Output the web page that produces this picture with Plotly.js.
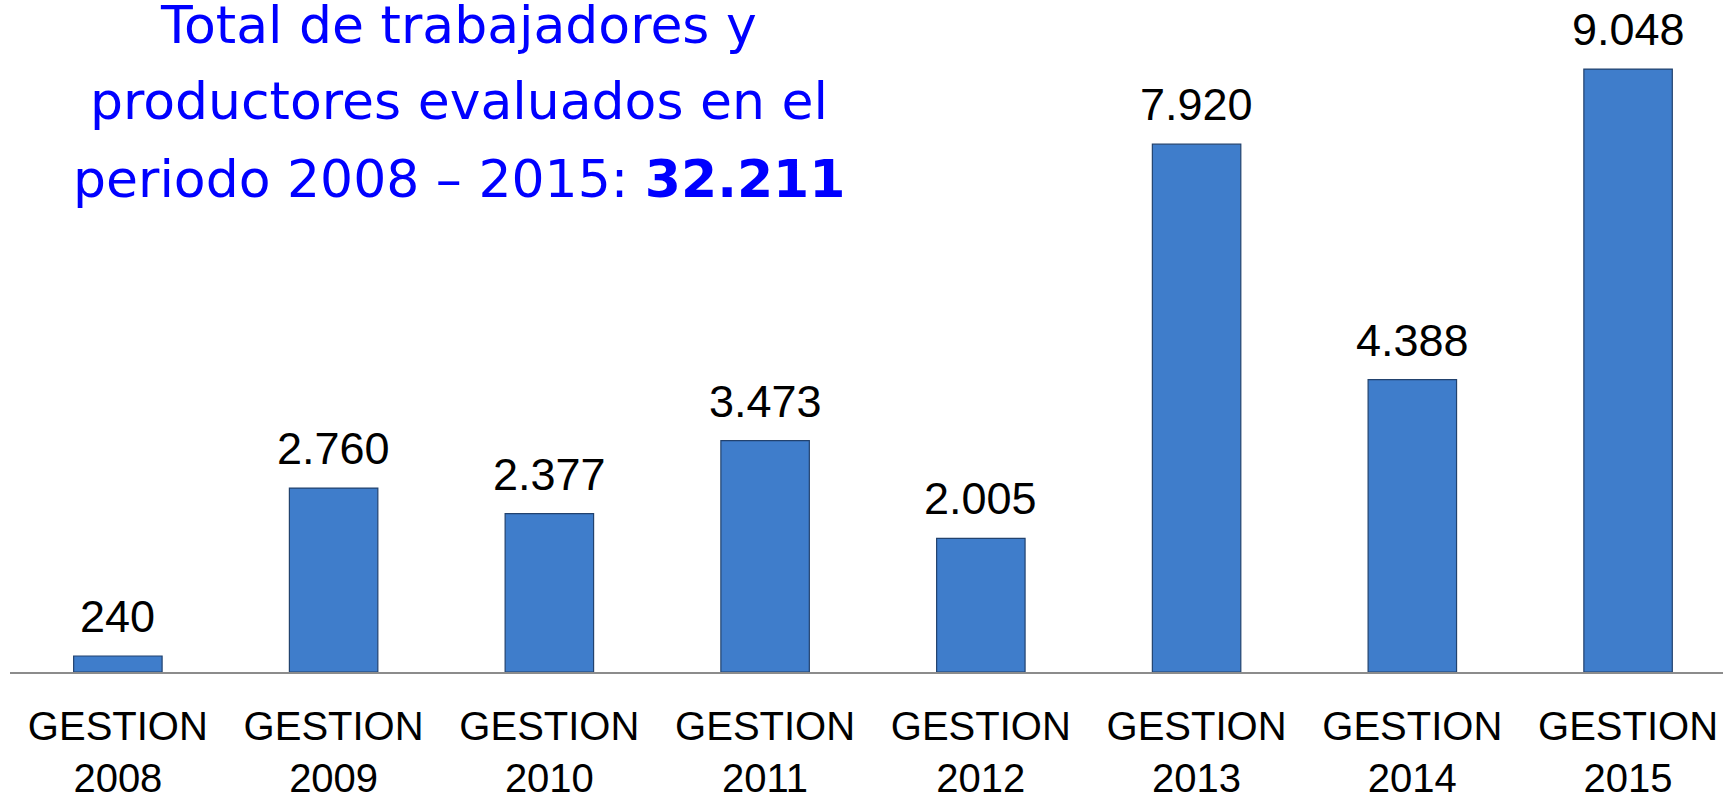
<!DOCTYPE html>
<html>
<head>
<meta charset="utf-8">
<script src="https://cdn.plot.ly/plotly-3.0.1.min.js"></script>
<style>html,body{margin:0;padding:0;background:#fff;}#chart{width:1723px;height:797px;}</style>
</head>
<body>
<div id="chart"></div>
<script>
const categories = ["GESTION<br>2008","GESTION<br>2009","GESTION<br>2010","GESTION<br>2011","GESTION<br>2012","GESTION<br>2013","GESTION<br>2014","GESTION<br>2015"];
const values = [240, 2760, 2377, 3473, 2005, 7920, 4388, 9048];
const valueLabels = ["240","2.760","2.377","3.473","2.005","7.920","4.388","9.048"];
const titleLines = ["Total de trabajadores y", "productores evaluados en el", "periodo 2008 – 2015: <b>32.211</b>"];

const trace = {
  type: 'bar',
  x: categories,
  y: values,
  marker: {color: '#3F7DCB', line: {color: '#22426E', width: 1.2}},
  hoverinfo: 'skip'
};

const valueAnnotations = categories.map((c, i) => ({
  x: c, y: values[i], xref: 'x', yref: 'y',
  text: valueLabels[i], showarrow: false,
  xanchor: 'center', yanchor: 'bottom', yshift: 12,
  font: {family: 'Liberation Sans, Arial, sans-serif', size: 45, color: '#000'}
}));

const titleY = [0.9923, 0.8758, 0.7561];
const titleAnnotations = titleLines.map((t, i) => ({
  x: 0.2621, y: titleY[i], xref: 'paper', yref: 'paper',
  text: t, showarrow: false, xanchor: 'center', yanchor: 'middle',
  font: {family: 'DejaVu Sans, sans-serif', size: 52, color: '#0000FF'}
}));

const layout = {
  width: 1723, height: 797,
  margin: {l: 10, r: 0, t: 20, b: 125},
  paper_bgcolor: '#fff', plot_bgcolor: '#fff',
  showlegend: false,
  bargap: 0.59,
  xaxis: {
    type: 'category',
    range: [-0.5, 7.44],
    showgrid: false, zeroline: false,
    showline: true, linecolor: '#8C8C8C', linewidth: 2,
    ticks: '',
    ticklabelstandoff: 18,
    tickfont: {family: 'Liberation Sans, Arial, sans-serif', size: 40, color: '#000'},
    fixedrange: true
  },
  yaxis: {
    range: [0, 9784],
    visible: false,
    showgrid: false, zeroline: false,
    fixedrange: true
  },
  annotations: titleAnnotations.concat(valueAnnotations)
};

Plotly.newPlot('chart', [trace], layout, {displayModeBar: false, staticPlot: true});
</script>
</body>
</html>
